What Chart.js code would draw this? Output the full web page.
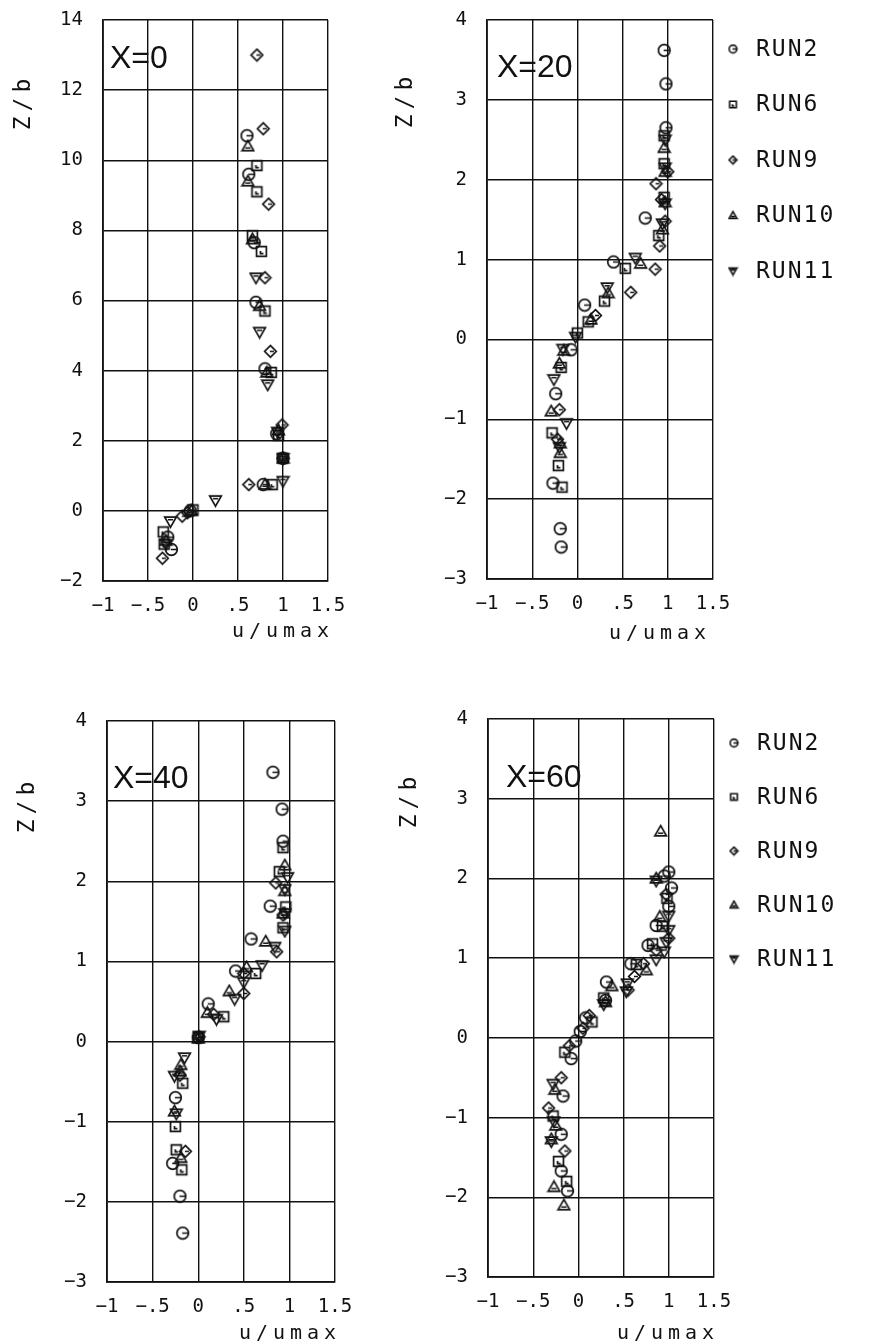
<!DOCTYPE html>
<html>
<head>
<meta charset="utf-8">
<script src="https://cdn.jsdelivr.net/npm/chart.js@4.4.0/dist/chart.umd.min.js"></script>
<style>
  body { margin: 0; background: #fff; width: 871px; height: 1343px; position: relative; overflow: hidden; }
  canvas { position: absolute; }
</style>
</head>
<body>
<canvas id="c0" width="368" height="680" style="left:0;top:-20px"></canvas>
<canvas id="c20" width="491" height="680" style="left:380px;top:-20px"></canvas>
<canvas id="c40" width="375" height="683" style="left:0;top:660px"></canvas>
<canvas id="c60" width="491" height="683" style="left:380px;top:660px"></canvas>
<script>
// runs and tick labels
const runNames = ['RUN2', 'RUN6', 'RUN9', 'RUN10', 'RUN11'];
const xTickLabels = ['\u22121', '\u2212.5', '0', '.5', '1', '1.5'];
const yTicksX0 = ['\u22122', '0', '2', '4', '6', '8', '10', '12', '14'];
const yTicksOther = ['\u22123', '\u22122', '\u22121', '0', '1', '2', '3', '4'];

// X=0  [u/umax, Z/b]
const x0_run2  = [[0.60,10.7],[0.62,9.6],[0.68,7.65],[0.70,5.95],[0.80,4.05],[0.93,2.2],[1.0,1.5],[0.78,0.75],[-0.03,0.0],[-0.28,-0.75],[-0.24,-1.1]];
const x0_run6  = [[0.71,9.85],[0.71,9.1],[0.66,7.85],[0.76,7.4],[0.80,5.7],[0.87,3.95],[0.95,2.15],[1.0,1.5],[0.88,0.75],[0.0,0.03],[-0.33,-0.6],[-0.32,-0.95]];
const x0_run9  = [[0.71,13.0],[0.78,10.9],[0.84,8.75],[0.80,6.65],[0.86,4.55],[0.99,2.45],[1.0,1.5],[0.62,0.75],[-0.06,-0.05],[-0.12,-0.15],[-0.34,-1.35]];
const x0_run10 = [[0.61,10.4],[0.61,9.4],[0.66,7.75],[0.74,5.85],[0.82,3.95],[0.95,2.3],[1.0,1.5],[0.80,0.75],[-0.02,0.0],[-0.30,-0.85]];
const x0_run11 = [[0.70,6.65],[0.74,5.1],[0.83,3.6],[0.94,2.25],[1.0,1.5],[1.0,0.85],[0.25,0.3],[-0.25,-0.3],[-0.30,-0.95]];

// X=20
const x20_run2  = [[0.96,3.62],[0.98,3.2],[0.98,2.65],[0.75,1.52],[0.40,0.97],[0.08,0.43],[-0.07,-0.13],[-0.24,-0.68],[-0.27,-1.8],[-0.19,-2.37],[-0.18,-2.6]];
const x20_run6  = [[0.96,2.55],[0.96,2.2],[0.96,1.78],[0.90,1.3],[0.53,0.89],[0.30,0.48],[0.12,0.22],[0.0,0.08],[-0.18,-0.35],[-0.28,-1.17],[-0.21,-1.58],[-0.17,-1.85]];
const x20_run9  = [[1.0,2.1],[0.87,1.95],[0.93,1.75],[0.97,1.48],[0.91,1.17],[0.86,0.88],[0.59,0.59],[0.20,0.30],[-0.20,-0.88],[-0.22,-1.25]];
const x20_run10 = [[0.96,2.4],[0.97,2.1],[0.97,1.72],[0.94,1.38],[0.70,0.95],[0.34,0.58],[0.15,0.25],[-0.15,-0.14],[-0.20,-0.30],[-0.29,-0.90],[-0.19,-1.3],[-0.19,-1.42]];
const x20_run11 = [[0.97,2.5],[0.97,2.15],[0.97,1.7],[0.94,1.45],[0.64,1.02],[0.33,0.65],[-0.02,0.03],[-0.16,-0.12],[-0.26,-0.5],[-0.12,-1.05],[-0.2,-1.35]];

// X=40
const x40_run2  = [[0.82,3.36],[0.92,2.9],[0.93,2.5],[0.79,1.69],[0.58,1.28],[0.41,0.88],[0.11,0.47],[0.0,0.05],[-0.25,-0.7],[-0.28,-1.52],[-0.20,-1.93],[-0.17,-2.39]];
const x40_run6  = [[0.93,2.42],[0.89,2.12],[0.96,1.68],[0.93,1.42],[0.63,0.85],[0.28,0.31],[0.0,0.05],[-0.17,-0.52],[-0.25,-1.06],[-0.24,-1.35],[-0.18,-1.6]];
const x40_run9  = [[0.85,1.98],[0.93,1.58],[0.86,1.12],[0.50,0.85],[0.50,0.6],[0.17,0.34],[0.01,0.06],[-0.20,-0.42],[-0.14,-1.37]];
const x40_run10 = [[0.95,2.2],[0.95,1.88],[0.93,1.6],[0.74,1.25],[0.53,0.93],[0.34,0.63],[0.10,0.36],[0.0,0.04],[-0.19,-0.29],[-0.20,-0.37],[-0.26,-0.87],[-0.19,-1.45]];
const x40_run11 = [[0.98,2.05],[0.95,1.9],[0.95,1.6],[0.95,1.38],[0.84,1.18],[0.70,0.95],[0.50,0.74],[0.40,0.53],[0.20,0.28],[0.01,0.07],[-0.15,-0.2],[-0.26,-0.43],[-0.24,-0.9]];

// X=60
const x60_run2  = [[1.0,2.08],[0.95,2.03],[1.03,1.88],[1.0,1.65],[0.86,1.41],[0.77,1.16],[0.58,0.93],[0.31,0.70],[0.30,0.47],[0.08,0.25],[0.02,0.08],[-0.03,-0.04],[-0.08,-0.26],[-0.17,-0.73],[-0.19,-1.21],[-0.19,-1.67],[-0.12,-1.92]];
const x60_run6  = [[0.98,1.75],[0.93,1.40],[0.82,1.18],[0.64,0.92],[0.28,0.50],[0.15,0.20],[-0.15,-0.18],[-0.28,-0.98],[-0.22,-1.55],[-0.13,-1.80]];
const x60_run9  = [[0.97,1.8],[1.0,1.25],[0.86,1.10],[0.72,0.93],[0.62,0.77],[0.55,0.6],[0.12,0.28],[0.05,0.12],[-0.10,-0.10],[-0.19,-0.50],[-0.33,-0.88],[-0.15,-1.42]];
const x60_run10 = [[0.91,2.59],[0.86,2.0],[0.90,1.52],[0.75,0.85],[0.37,0.65],[0.30,0.45],[-0.26,-0.65],[-0.25,-1.10],[-0.30,-1.27],[-0.27,-1.87],[-0.16,-2.10]];
const x60_run11 = [[0.86,1.97],[1.0,1.53],[1.0,1.35],[0.97,1.20],[0.95,1.08],[0.86,0.98],[0.54,0.68],[0.53,0.58],[0.28,0.42],[-0.28,-0.58],[-0.27,-1.05],[-0.30,-1.30]];

const INK = '#111';
const MONO = '"DejaVu Sans Mono", "Liberation Mono", monospace';

// plotter-style open markers
function makeMarker(kind, size, lw) {
    const c = document.createElement('canvas');
    c.width = c.height = size;
    const g = c.getContext('2d');
    const m = size / 2, r = size / 2 - lw;
    g.strokeStyle = INK;
    g.lineWidth = lw;
    g.beginPath();
    if (kind === 'circle') {
        g.arc(m, m, r, 0, Math.PI * 2);
        g.moveTo(m - 0.5, m);
        g.lineTo(m + r, m);
    } else if (kind === 'square') {
        const s = r * 0.85;
        g.rect(m - s, m - s, s * 2, s * 2);
        g.moveTo(m - s * 0.2, m - s * 0.1);
        g.lineTo(m - s * 0.2, m + s * 0.45);
        g.lineTo(m + s * 0.4, m + s * 0.45);
    } else if (kind === 'diamond') {
        g.moveTo(m, m - r);
        g.lineTo(m + r, m);
        g.lineTo(m, m + r);
        g.lineTo(m - r, m);
        g.closePath();
        g.moveTo(m - 0.5, m);
        g.lineTo(m + r * 0.6, m);
    } else if (kind === 'triUp') {
        g.moveTo(m, m - r);
        g.lineTo(m + r, m + r * 0.75);
        g.lineTo(m - r, m + r * 0.75);
        g.closePath();
        g.moveTo(m - r * 0.45, m + r * 0.3);
        g.lineTo(m + r * 0.45, m + r * 0.3);
    } else {
        g.moveTo(m - r, m - r * 0.75);
        g.lineTo(m + r, m - r * 0.75);
        g.lineTo(m, m + r);
        g.closePath();
        g.moveTo(m - r * 0.45, m - r * 0.3);
        g.lineTo(m + r * 0.45, m - r * 0.3);
    }
    g.stroke();
    return c;
}

const markerKinds = ['circle', 'square', 'diamond', 'triUp', 'triDown'];
const markers = markerKinds.map(k => makeMarker(k, 15, 1.7));
const legendMarkers = markerKinds.map(k => makeMarker(k, 11, 1.6));

// titles, panel label and legend
const panelDeco = {
    id: 'panelDeco',
    afterDraw(chart, args, opts) {
        const ctx = chart.ctx;
        const area = chart.chartArea;
        ctx.save();
        ctx.fillStyle = INK;

        // X=..
        ctx.font = '32px "Liberation Sans", Arial, sans-serif';
        ctx.textAlign = 'left';
        ctx.textBaseline = 'alphabetic';
        ctx.fillText(opts.label, opts.labelX, opts.labelY);

        // Z/b
        ctx.save();
        ctx.translate(opts.zx, opts.zy);
        ctx.rotate(-Math.PI / 2);
        ctx.font = '23px ' + MONO;
        ctx.letterSpacing = '5px';
        ctx.textAlign = 'center';
        ctx.textBaseline = 'middle';
        ctx.fillText('Z/b', 0, 0);
        ctx.restore();

        // u/umax
        ctx.font = '20px ' + MONO;
        ctx.letterSpacing = '5px';
        ctx.textAlign = 'center';
        ctx.textBaseline = 'middle';
        ctx.fillText('u/umax', opts.ux, opts.uy);

        if (opts.legend) {
            ctx.font = '23px ' + MONO;
            ctx.letterSpacing = '2px';
            ctx.textAlign = 'left';
            runNames.forEach((name, i) => {
                const y = area.top + opts.legendTop + i * opts.legendStep;
                const img = legendMarkers[i];
                ctx.drawImage(img, area.right + 20 - img.width / 2, y - img.height / 2);
                ctx.fillText(name, area.right + 43, y + 1);
            });
        }
        ctx.restore();
    }
};

function buildPanel(id, series, yMin, yMax, yStep, yLabels, deco) {
    const datasets = series.map((pts, i) => ({
        label: runNames[i],
        data: pts,
        pointStyle: markers[i],
        pointRadius: 7,
        showLine: false
    }));

    return new Chart(document.getElementById(id), {
        type: 'scatter',
        data: { datasets },
        plugins: [panelDeco],
        options: {
            responsive: false,
            animation: false,
            events: [],
            layout: { padding: { top: deco.top, right: deco.right, left: 0, bottom: 0 } },
            plugins: {
                legend: { display: false },
                tooltip: { enabled: false },
                panelDeco: deco
            },
            scales: {
                x: {
                    type: 'linear',
                    min: -1,
                    max: 1.5,
                    afterBuildTicks: (scale) => {
                        scale.ticks = [-1, -0.5, 0, 0.5, 1, 1.5].map(v => ({ value: v }));
                    },
                    afterFit: (scale) => { scale.height = deco.xHeight; },
                    grid: { color: INK, lineWidth: 1.4, drawTicks: false },
                    border: { color: INK, width: 1.8 },
                    ticks: {
                        autoSkip: false,
                        maxRotation: 0,
                        padding: 14,
                        color: INK,
                        font: { family: MONO, size: 19 },
                        callback: (v, i) => xTickLabels[i]
                    }
                },
                y: {
                    type: 'linear',
                    min: yMin,
                    max: yMax,
                    ticks: {
                        stepSize: yStep,
                        autoSkip: false,
                        padding: 20,
                        color: INK,
                        font: { family: MONO, size: 19 },
                        callback: (v, i) => yLabels[i]
                    },
                    afterFit: (scale) => { scale.width = deco.yWidth; },
                    grid: { color: INK, lineWidth: 1.4, drawTicks: false },
                    border: { color: INK, width: 1.8 }
                }
            }
        }
    });
}

buildPanel('c0', [x0_run2, x0_run6, x0_run9, x0_run10, x0_run11], -2, 14, 2, yTicksX0, {
    top: 40, right: 40, yWidth: 103, xHeight: 79,
    label: 'X=0', labelX: 110, labelY: 88,
    zx: 24, zy: 122, ux: 283, uy: 652, legend: false
});
buildPanel('c20', [x20_run2, x20_run6, x20_run9, x20_run10, x20_run11], -3, 4, 1, yTicksOther, {
    top: 40, right: 158, yWidth: 107, xHeight: 81,
    label: 'X=20', labelX: 117, labelY: 97,
    zx: 26, zy: 120, ux: 280, uy: 654,
    legend: true, legendTop: 29, legendStep: 55.5
});
buildPanel('c40', [x40_run2, x40_run6, x40_run9, x40_run10, x40_run11], -3, 4, 1, yTicksOther, {
    top: 61, right: 40, yWidth: 107, xHeight: 61,
    label: 'X=40', labelX: 113, labelY: 128,
    zx: 28, zy: 145, ux: 290, uy: 674, legend: false
});
buildPanel('c60', [x60_run2, x60_run6, x60_run9, x60_run10, x60_run11], -3, 4, 1, yTicksOther, {
    top: 59, right: 157, yWidth: 108, xHeight: 66,
    label: 'X=60', labelX: 126, labelY: 127,
    zx: 30, zy: 140, ux: 288, uy: 674,
    legend: true, legendTop: 24, legendStep: 54
});
</script>
</body>
</html>
